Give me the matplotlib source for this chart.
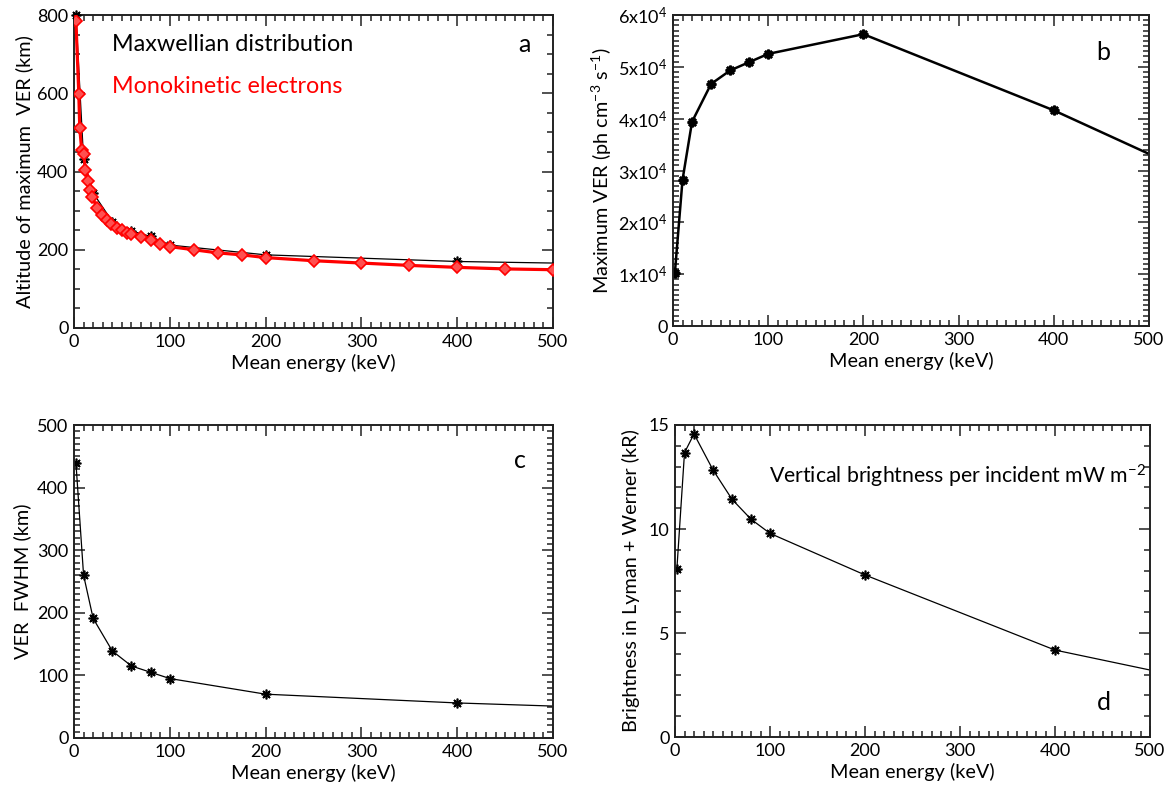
import matplotlib
matplotlib.use('Agg')
import matplotlib.pyplot as plt
from matplotlib.ticker import MultipleLocator, AutoMinorLocator

plt.rcParams['font.family'] = ['Lato', 'DejaVu Sans']
plt.rcParams['mathtext.fontset'] = 'custom'
plt.rcParams['mathtext.rm'] = 'Lato'
plt.rcParams['mathtext.it'] = 'Lato'

# Maxwellian runs (last point only closes the line, no marker)
energy = [2, 10, 20, 40, 60, 80, 100, 200, 400, 500]
alt_maxw = [800, 432, 345, 272, 248, 234, 212, 187, 170, 166]
ver_peak = [10300, 28200, 39400, 46700, 49300, 50900, 52500, 56300, 41600, 33200]
ver_fwhm = [440, 260, 191, 139, 115, 105, 95, 70, 56, 51]
brightness = [8.1, 13.67, 14.57, 12.84, 11.43, 10.47, 9.79, 7.79, 4.18, 3.22]

# monokinetic electrons
energy_mono = [2, 5, 6, 8, 10, 12, 15, 17, 19, 24, 29, 34, 39, 45, 50, 55, 60, 70,
               80, 90, 100, 125, 150, 175, 200, 250, 300, 350, 400, 450, 500]
alt_mono = [785, 599, 512, 455, 446, 405, 375, 352, 335, 307, 290, 277, 267, 256, 250,
            243, 239, 232, 224, 215, 208, 200, 192, 187, 180, 172, 166, 160, 155, 151, 149]

b_ticks = [0, 1e4, 2e4, 3e4, 4e4, 5e4, 6e4]
b_labels = ['0', '1x10$^4$', '2x10$^4$', '3x10$^4$', '4x10$^4$', '5x10$^4$', '6x10$^4$']

W, H = 1171, 797
fig = plt.figure(figsize=(W / 100, H / 100), dpi=100)

def box(l, b, r, t):
    return [l / W, 1 - b / H, (r - l) / W, (b - t) / H]

ax_a = fig.add_axes(box(74, 328, 553, 15))
ax_b = fig.add_axes(box(673, 326, 1149, 15))
ax_c = fig.add_axes(box(74, 738, 553, 425))
ax_d = fig.add_axes(box(675, 737, 1150, 425))

ast = (8, 2, 0)
mark = list(range(len(energy) - 1))
lab = 14.3

def style(ax, ymax, ymaj, yminor):
    ax.set_xlim(0, 500)
    ax.set_ylim(0, ymax)
    ax.xaxis.set_major_locator(MultipleLocator(100))
    ax.xaxis.set_minor_locator(AutoMinorLocator(10))
    ax.yaxis.set_major_locator(MultipleLocator(ymaj))
    ax.yaxis.set_minor_locator(AutoMinorLocator(yminor))
    ax.tick_params(which='both', direction='in', top=True, right=True,
                   labelsize=13, width=1.1, color='#222222')
    ax.tick_params(which='major', length=8, pad=4)
    ax.tick_params(which='minor', length=4)
    for s in ax.spines.values():
        s.set_linewidth(1.4)
        s.set_color('#222222')
    ax.set_xlabel('Mean energy (keV)', fontsize=lab, labelpad=3)

# a
ax_a.plot(energy, alt_maxw, color='black', lw=0.9, marker=ast, ms=7, mew=1.2,
          markevery=mark, clip_on=False, zorder=3)
ax_a.plot(energy_mono, alt_mono, color='red', lw=2.3, marker='D', ms=6,
          mfc='#ff5050', mec='red', mew=1.2, zorder=4)
style(ax_a, 800, 200, 4)
ax_a.set_ylabel('Altitude of maximum  VER (km)', fontsize=lab, labelpad=3)
ax_a.text(0.0798, 0.905, 'Maxwellian distribution', transform=ax_a.transAxes,
          fontsize=16.8, va='center')
ax_a.text(0.0798, 0.773, 'Monokinetic electrons', transform=ax_a.transAxes,
          fontsize=16.8, color='red', va='center')
ax_a.text(0.94, 0.905, 'a', transform=ax_a.transAxes, fontsize=18, ha='center', va='center')

# b
ax_b.plot(energy, ver_peak, color='black', lw=1.8, marker=ast, ms=7, mew=1.8,
          markevery=mark)
style(ax_b, 6e4, 1e4, 10)
ax_b.set_yticks(b_ticks)
ax_b.set_yticklabels(b_labels)
ax_b.set_ylabel('Maximum VER (ph cm$^{-3}$ s$^{-1}$)', fontsize=lab, labelpad=3)
ax_b.text(0.903, 0.88, 'b', transform=ax_b.transAxes, fontsize=18, ha='center', va='center')

# c
ax_c.plot(energy, ver_fwhm, color='black', lw=0.9, marker=ast, ms=7, mew=1.2,
          markevery=mark)
style(ax_c, 500, 100, 10)
ax_c.set_ylabel('VER  FWHM (km)', fontsize=lab, labelpad=4)
ax_c.text(0.93, 0.885, 'c', transform=ax_c.transAxes, fontsize=18, ha='center', va='center')

# d
ax_d.plot(energy, brightness, color='black', lw=0.9, marker=ast, ms=7, mew=1.2,
          markevery=mark)
style(ax_d, 15, 5, 5)
ax_d.set_ylabel('Brightness in Lyman + Werner (kR)', fontsize=lab, labelpad=6)
ax_d.text(0.198, 0.835, 'Vertical brightness per incident mW m$^{-2}$',
          transform=ax_d.transAxes, fontsize=15.3, va='center')
ax_d.text(0.903, 0.11, 'd', transform=ax_d.transAxes, fontsize=18, ha='center', va='center')

fig.savefig('out.png', dpi=100)
